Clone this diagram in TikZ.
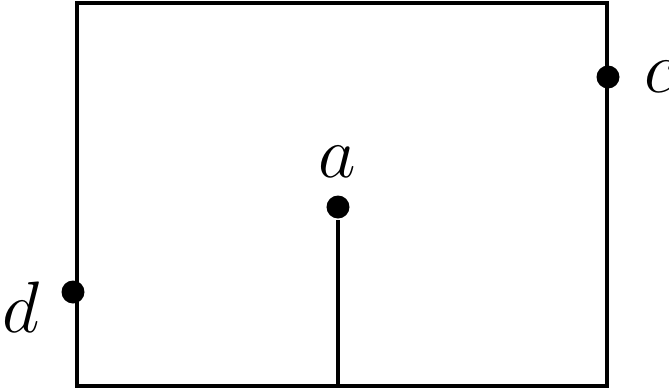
\documentclass[tikz,border=0pt]{standalone}
\tikzset{
  point/.style={
    circle,
    fill,
    inner sep=0pt,
    minimum size=0.46cm
  },
  tag/.style={
    font=\huge,
    scale=2,
    transform shape
  }
}

\begin{document}
\begin{tikzpicture}[line width=1.8pt]
  \useasboundingbox (0,0) rectangle (13.38,7.78);
  \draw (1.54,0.06) rectangle (12.14,7.72);

  \node[point] (a) at (6.76,3.64) {};
  \node[point] (c) at (12.16,6.24) {};
  \node[point] (d) at (1.46,1.94) {};
  \coordinate (base) at (6.72,0.06);
  \draw (a) -- (a |- base);

  \node[tag] (la) at (6.74,4.54) {$a$};
  \node[tag] (lc) at (13.2,6.24) {$c$};
  \node[tag] (ld) at (0.42,1.64) {$d$};
\end{tikzpicture}
\end{document}
